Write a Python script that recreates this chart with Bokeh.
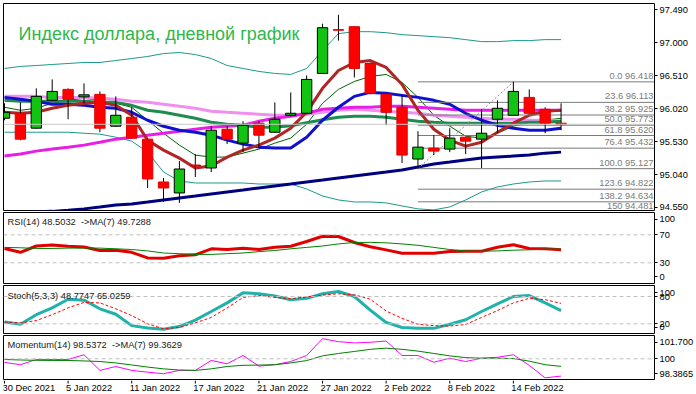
from bokeh.plotting import figure
from bokeh.models import (Range1d, FixedTicker, NumeralTickFormatter, Span, Label,
                          ColumnDataSource)
from bokeh.layouts import column
from bokeh.embed import file_html
from bokeh.resources import INLINE
from bokeh.core.properties import value

# ---------------- data ----------------
dates = ["30 Dec 2021", "31 Dec 2021", "3 Jan 2022", "4 Jan 2022", "5 Jan 2022", "6 Jan 2022",
         "7 Jan 2022", "10 Jan 2022", "11 Jan 2022", "12 Jan 2022", "13 Jan 2022", "14 Jan 2022",
         "17 Jan 2022", "18 Jan 2022", "19 Jan 2022", "20 Jan 2022", "21 Jan 2022", "24 Jan 2022",
         "25 Jan 2022", "26 Jan 2022", "27 Jan 2022", "28 Jan 2022", "31 Jan 2022", "1 Feb 2022",
         "2 Feb 2022", "3 Feb 2022", "4 Feb 2022", "7 Feb 2022", "8 Feb 2022", "9 Feb 2022",
         "10 Feb 2022", "11 Feb 2022", "14 Feb 2022", "15 Feb 2022", "16 Feb 2022", "17 Feb 2022"]

open_ = [95.877, 95.951, 95.729, 96.143, 96.306, 96.195, 96.232, 95.758, 95.892, 95.566, 94.929, 94.766,
         95.181, 95.137, 95.714, 95.507, 95.803, 95.669, 95.921, 95.951, 96.543, 97.194, 97.238, 96.691,
         96.232, 96.040, 95.270, 95.433, 95.418, 95.595, 95.566, 95.862, 95.921, 96.187, 96.010, 95.803]
high = [96.099, 96.113, 96.321, 96.454, 96.321, 96.395, 96.276, 96.202, 96.040, 95.570, 94.988, 95.240,
        95.344, 95.758, 95.758, 95.832, 95.832, 96.113, 96.261, 96.513, 97.283, 97.416, 97.240, 96.706,
        96.232, 96.217, 95.684, 95.625, 95.729, 95.600, 96.010, 96.143, 96.418, 96.306, 96.040, 96.099]
low = [95.847, 95.550, 95.720, 96.130, 95.862, 96.099, 95.669, 95.750, 95.575, 94.840, 94.632, 94.618,
       95.003, 95.077, 95.492, 95.373, 95.433, 95.660, 95.906, 95.945, 96.540, 97.031, 96.483, 96.232,
       95.773, 95.211, 95.127, 95.329, 95.373, 95.344, 95.137, 95.654, 95.920, 95.945, 95.654, 95.699]
close = [95.965, 95.566, 96.202, 96.276, 96.158, 96.225, 95.729, 95.921, 95.581, 94.974, 94.840, 95.122,
         95.166, 95.699, 95.566, 95.773, 95.625, 95.862, 95.951, 96.454, 97.223, 97.186, 96.617, 96.247,
         95.965, 95.329, 95.447, 95.388, 95.581, 95.536, 95.654, 96.025, 96.276, 95.951, 95.803, 95.787]

ma_fast = [95.965, 95.951, 95.965, 96.025, 96.069, 96.099, 96.113, 96.069, 95.921, 95.551, 95.403, 95.284,
           95.137, 95.166, 95.299, 95.403, 95.477, 95.581, 95.729, 95.965, 96.321, 96.587, 96.706, 96.735,
           96.632, 96.380, 95.995, 95.714, 95.551, 95.462, 95.521, 95.669, 95.803, 95.921, 95.980, 95.995]
ma_blue = [96.187, 96.158, 96.128, 96.084, 96.084, 96.069, 96.040, 96.025, 95.965, 95.847, 95.758, 95.699,
           95.669, 95.625, 95.551, 95.492, 95.447, 95.433, 95.433, 95.595, 95.847, 96.040, 96.202, 96.261,
           96.247, 96.217, 96.187, 96.143, 96.084, 95.951, 95.847, 95.773, 95.729, 95.699, 95.699, 95.729]
ma_magenta = [95.314, 95.344, 95.388, 95.418, 95.447, 95.477, 95.521, 95.566, 95.595, 95.625, 95.654, 95.684,
              95.714, 95.743, 95.758, 95.773, 95.832, 95.877, 95.906, 95.951, 96.010, 96.025, 96.040, 96.040,
              96.054, 96.054, 96.040, 96.025, 96.010, 95.995, 95.995, 95.995, 95.995, 95.995, 95.995, 95.995]
ma_pink = [96.202, 96.202, 96.202, 96.187, 96.187, 96.187, 96.173, 96.158, 96.128, 96.113, 96.084, 96.054,
           96.025, 95.980, 95.965, 95.951, 95.936, 95.921, 95.921, 95.936, 95.965, 95.995, 96.010, 95.995,
           95.980, 95.965, 95.951, 95.921, 95.906, 95.892, 95.877, 95.862, 95.862, 95.847, 95.847, 95.832]
ma_green = [96.143, 96.128, 96.128, 96.128, 96.128, 96.128, 96.113, 96.113, 96.069, 95.995, 95.965, 95.921,
            95.877, 95.817, 95.788, 95.773, 95.743, 95.743, 95.765, 95.810, 95.855, 95.892, 95.906, 95.906,
            95.892, 95.862, 95.832, 95.817, 95.803, 95.803, 95.803, 95.803, 95.803, 95.817, 95.817, 95.832]
ma_thin = [96.040, 95.995, 96.025, 96.099, 96.143, 96.173, 96.143, 96.099, 96.040, 95.847, 95.654, 95.477,
           95.329, 95.299, 95.299, 95.358, 95.418, 95.507, 95.581, 95.788, 96.099, 96.306, 96.424, 96.498,
           96.528, 96.409, 96.187, 95.921, 95.758, 95.610, 95.581, 95.654, 95.758, 95.817, 95.847, 95.877]
bb_upper = [96.617, 96.647, 96.661, 96.676, 96.691, 96.706, 96.706, 96.735, 96.765, 96.795, 96.839, 96.854,
            96.824, 96.765, 96.661, 96.617, 96.573, 96.543, 96.528, 96.617, 96.883, 97.135, 97.164, 97.164,
            97.149, 97.120, 97.105, 97.090, 97.075, 97.046, 97.016, 97.016, 97.031, 97.031, 97.046, 97.046]
bb_lower = [95.669, 95.669, 95.669, 95.669, 95.669, 95.654, 95.640, 95.595, 95.536, 95.373, 95.077, 94.944,
            94.914, 94.914, 94.914, 94.914, 94.899, 94.899, 94.899, 94.825, 94.721, 94.662, 94.632, 94.632,
            94.618, 94.573, 94.529, 94.514, 94.558, 94.662, 94.781, 94.855, 94.899, 94.929, 94.944, 94.944]
ma_long = [94.455, 94.470, 94.485, 94.492, 94.507, 94.529, 94.558, 94.588, 94.603, 94.632, 94.662, 94.692,
           94.721, 94.751, 94.781, 94.810, 94.840, 94.870, 94.899, 94.929, 94.958, 94.988, 95.018, 95.048,
           95.077, 95.107, 95.151, 95.196, 95.225, 95.255, 95.284, 95.299, 95.314, 95.329, 95.358, 95.373]

fib_pct = ["0.0", "23.6", "38.2", "50.0", "61.8", "76.4", "100.0", "123.6", "138.2", "150"]
fib_val = [96.418, 96.113, 95.925, 95.773, 95.620, 95.432, 95.127, 94.822, 94.634, 94.481]
fib_low_bar = 26
fib_high_bar = 32

rsi = [50.4, 45.0, 54.0, 55.5, 53.7, 52.5, 47.6, 47.8, 45.0, 37.0, 36.6, 40.0, 41.4, 50.0, 49.0, 50.9, 49.0, 52.3,
       53.7, 60.4, 68.0, 67.6, 59.0, 53.0, 48.5, 43.7, 43.7, 43.7, 46.0, 46.6, 46.6, 52.3, 55.7, 50.5, 50.0, 48.5]
rsi_ma = [52.0, 51.5, 50.5, 50.5, 51.0, 51.0, 51.0, 50.0, 49.0, 47.0, 44.0, 43.0, 42.0, 42.0, 43.0, 44.0, 46.0, 47.6,
          50.0, 52.0, 54.0, 57.0, 59.0, 59.2, 58.5, 57.0, 55.0, 52.0, 49.0, 47.0, 46.5, 47.0, 48.0, 48.6, 49.5, 49.7]
stoch_k = [24, 19, 40, 55, 74, 72, 53, 41, 16, 11, 8, 14, 28, 47, 66, 88, 86, 81,
           73, 76, 86, 91, 80, 50, 23, 12, 10, 10, 19, 29, 47, 64, 80, 82, 66, 48.8]
stoch_d = [24, 22, 27, 40, 55, 67, 66, 53, 38, 20, 9, 12, 22, 34, 55, 78, 82, 78,
           75, 79, 83, 86, 84, 74, 48, 32, 19, 16, 15, 18.5, 34, 49, 66, 76, 73, 65]
mom = [99.70, 99.50, 99.94, 99.94, 99.94, 100.34, 99.02, 99.35, 99.02, 98.87, 98.74, 99.02, 99.02, 99.86, 99.58,
       100.28, 99.38, 99.50, 99.77, 100.28, 101.70, 101.45, 101.34, 101.40, 101.50, 100.28, 100.28, 99.71, 100.05,
       99.77, 100.05, 100.13, 100.34, 99.44, 98.39, 98.54]
mom_ma = [99.94, 99.90, 99.87, 99.86, 99.86, 99.82, 99.77, 99.65, 99.48, 99.30, 99.15, 99.05, 99.02, 99.15, 99.35,
          99.45, 99.47, 99.50, 99.65, 99.85, 100.25, 100.45, 100.62, 100.80, 100.90, 100.80, 100.65, 100.45, 100.25,
          100.10, 100.05, 100.05, 100.02, 99.80, 99.50, 99.36]

price_ticks = [97.490, 97.000, 96.510, 96.020, 95.530, 95.040, 94.550]
rsi_levels = [70, 30]
stoch_levels = [80, 20]
mom_level = 100
title_text = "Индекс доллара, дневной график"
rsi_text = "RSI(14) 48.5032\u00a0 ->MA(7) 49.7288"
stoch_text = "Stoch(5,3,3) 48.7747 65.0259"
mom_text = "Momentum(14) 98.5372\u00a0 ->MA(7) 99.3629"
label_every = 4

# ---------------- styling ----------------
W = 696
FONT = "Liberation Sans"
FS = "9.3px"
bars = list(range(len(dates)))
x_end = 40.875
x_rng = Range1d(-0.0625, x_end)


def make_fig(height, y0, y1, top, bottom, axis=True):
    p = figure(width=W, height=height, x_range=x_rng, y_range=Range1d(y0, y1),
               output_backend="svg", toolbar_location=None, tools="",
               x_axis_location=None, y_axis_location="right" if axis else None,
               min_border_left=3, min_border_right=38, min_border_top=top,
               min_border_bottom=bottom)
    p.grid.visible = False
    p.outline_line_color = "black" if axis else None
    p.outline_line_width = 1
    p.background_fill_color = "white"
    p.border_fill_color = "white"
    if axis:
        ax = p.yaxis[0]
        ax.axis_line_color = None
        ax.major_tick_out = 3
        ax.major_tick_in = 0
        ax.minor_tick_line_color = None
        ax.major_tick_line_color = "black"
        ax.major_label_standoff = 2
        ax.major_label_text_font = FONT
        ax.major_label_text_font_size = FS
        ax.major_label_text_color = "black"
    return p


def level_spans(p, levels, color="#c0c0c0"):
    for lv in levels:
        p.add_layout(Span(location=lv, dimension="width", line_color=color,
                          line_dash="4 3", line_width=1))


# ---------------- main panel ----------------
p1 = make_fig(211, 94.505, 97.583, 3, 1)
p1.yaxis[0].ticker = FixedTicker(ticks=price_ticks)
p1.yaxis[0].formatter = NumeralTickFormatter(format="0.000")

p1.add_layout(Span(location=close[-1], dimension="width", line_color="#c8c8c8", line_width=1))

p1.line(bars, bb_upper, color="#1a9a8a", line_width=1)
p1.line(bars, bb_lower, color="#1a9a8a", line_width=1)
p1.line(bars, ma_long, color="#000080", line_width=3)
p1.line(bars, ma_thin, color="#006400", line_width=1)
p1.line(bars, ma_pink, color="#ee90ee", line_width=3)
p1.line(bars, ma_magenta, color="#e61ee6", line_width=3)
p1.line(bars, ma_green, color="#1e8c4e", line_width=3)
p1.line(bars, ma_blue, color="#1010d0", line_width=3)
p1.line(bars, ma_fast, color="#b02525", line_width=3)

# fibonacci
nf = len(fib_val)
p1.segment(x0=[fib_low_bar] * nf, y0=fib_val, x1=[x_end] * nf, y1=fib_val,
           color="#7a7a7a", line_width=1)
p1.line([fib_low_bar, fib_high_bar], [low[fib_low_bar], high[fib_high_bar]],
        color="#8a8a8a", line_dash="2 2", line_width=1)
p1.text(x=[x_end] * nf, y=fib_val, text=[f"{a} {b:.3f}" for a, b in zip(fib_pct, fib_val)],
        text_align="right", text_baseline="bottom", x_offset=-1, y_offset=-1,
        text_color="#7a7a7a", text_font=value(FONT), text_font_size=FS)

# candles
body_top = [max(o, c) for o, c in zip(open_, close)]
body_bot = [min(o, c) for o, c in zip(open_, close)]
up = [c >= o for o, c in zip(open_, close)]
fills = ["#12c412" if u else "#ff0000" for u in up]
lines = ["#000000" if u else "#e00000" for u in up]
csrc = ColumnDataSource(dict(x=bars, top=body_top, bottom=body_bot, low=low, high=high,
                             fill=fills, line=lines))
p1.segment(x0="x", y0="low", x1="x", y1="high", source=csrc, color="black", line_width=1)
p1.vbar(x="x", top="top", bottom="bottom", width=0.65, source=csrc,
        fill_color="fill", line_color="line", line_width=1)

p1.add_layout(Label(x=15, y=176.5, x_units="screen", y_units="screen", text=title_text,
                    text_color="#2db84b", text_font=FONT, text_font_size="18px",
                    text_baseline="alphabetic"))
p1.add_layout(Label(x=657, y=close[-1], x_units="screen", y_units="data", text=f"{close[-1]:.3f}",
                    text_color="white", background_fill_color="black", text_font=FONT,
                    text_font_size=FS, text_baseline="middle", text_align="left", padding=2))

# ---------------- RSI ----------------
p2 = make_fig(73, 0.4, 101.9, 1, 1)
p2.yaxis[0].ticker = FixedTicker(ticks=[91.9, 70, 30, 10.4])
p2.yaxis[0].major_label_overrides = {91.9: "100", 10.4: "0"}
level_spans(p2, rsi_levels)
p2.line(bars, rsi, color="#e00000", line_width=3)
p2.line(bars, rsi_ma, color="#008000", line_width=1)
p2.add_layout(Label(x=4, y=61.3, x_units="screen", y_units="screen", text=rsi_text,
                    text_color="#202020", text_font=FONT, text_font_size=FS, text_baseline="middle"))

# ---------------- Stochastic ----------------
p3 = make_fig(50, -1.3, 104.2, 1, 1)
p3.yaxis[0].ticker = FixedTicker(ticks=[88.8, 80, 20, 11.9])
p3.yaxis[0].major_label_overrides = {88.8: "100", 11.9: "0"}
level_spans(p3, stoch_levels)
p3.line(bars, stoch_k, color="#20b2aa", line_width=3)
p3.line(bars, stoch_d, color="#ff0000", line_width=1, line_dash="3 2")
p3.add_layout(Label(x=4, y=38, x_units="screen", y_units="screen", text=stoch_text,
                    text_color="#202020", text_font=FONT, text_font_size=FS, text_baseline="middle"))

# ---------------- Momentum ----------------
p4 = make_fig(46, 98.25, 101.97, 1, 1)
p4.yaxis[0].ticker = FixedTicker(ticks=[101.40, 100, 98.73])
p4.yaxis[0].major_label_overrides = {101.40: "101.700", 100: "100", 98.73: "98.3865"}
level_spans(p4, [mom_level])
p4.line(bars, mom, color="#ff00ff", line_width=1)
p4.line(bars, mom_ma, color="#008000", line_width=1)
p4.add_layout(Label(x=4, y=34.7, x_units="screen", y_units="screen", text=mom_text,
                    text_color="#202020", text_font=FONT, text_font_size=FS, text_baseline="middle"))

# ---------------- date strip (time axis) ----------------
p5 = make_fig(14, 0, 14, 0, 0, axis=False)
label_bars = bars[::label_every]
p5.segment(x0=label_bars, y0=[14] * len(label_bars), x1=label_bars, y1=[11] * len(label_bars),
           color="black", line_width=1)
p5.text(x=label_bars, y=[1.2] * len(label_bars), text=[dates[i] for i in label_bars],
        text_align="left", text_baseline="bottom", x_offset=-2,
        text_font=value(FONT), text_font_size=FS, text_color="black")

layout = column(p1, p2, p3, p4, p5, spacing=0)

open("out.html", "w").write(file_html(layout, INLINE))
